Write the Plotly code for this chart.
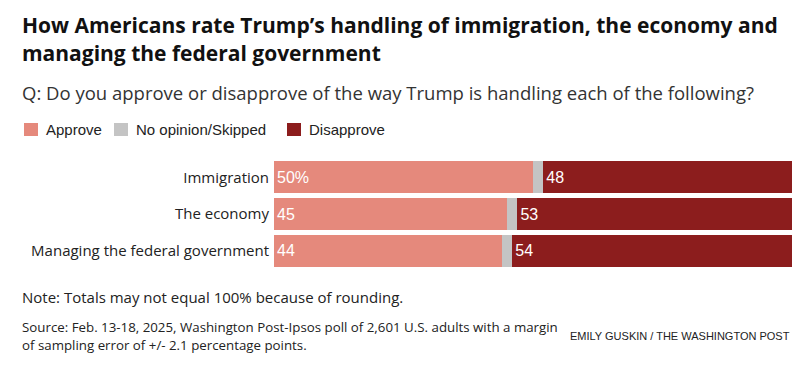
import plotly.graph_objects as go

categories = ["Immigration", "The economy", "Managing the federal government"]
approve = [50, 45, 44]
no_opinion = [2, 2, 2]
disapprove = [48, 53, 54]

C_APPROVE = "#E5897C"
C_NONE = "#C4C4C4"
C_DIS = "#8C1D1D"

FONT = "Liberation Sans, Arial, sans-serif"
FONT2 = "Open Sans, Liberation Sans, sans-serif"

# page has an 8px body margin; figure coordinates are page coordinates minus 8
OFF = 8
W, H = 811 - OFF, 373 - OFF
L, R, T = 274 - OFF, W - (792 - OFF), 159 - OFF
B = H - (269 - OFF)
PW, PH = W - L - R, H - T - B

def px(x):
    return (x - OFF - L) / PW

def py(y):
    return (H - B - (y - OFF)) / PH

approve_text = [f"{v}%" if i == 0 else f"{v}" for i, v in enumerate(approve)]
dis_text = [f"{v}" for v in disapprove]

fig = go.Figure()
fig.add_trace(go.Bar(y=categories, x=approve, orientation="h", name="Approve",
                     marker=dict(color=C_APPROVE, line=dict(width=0)),
                     text=approve_text, textposition="inside", insidetextanchor="start",
                     textfont=dict(color="white", size=16, family=FONT),
                     hoverinfo="skip"))
fig.add_trace(go.Bar(y=categories, x=no_opinion, orientation="h", name="No opinion/Skipped",
                     marker=dict(color=C_NONE, line=dict(width=0)), hoverinfo="skip"))
fig.add_trace(go.Bar(y=categories, x=disapprove, orientation="h", name="Disapprove",
                     marker=dict(color=C_DIS, line=dict(width=0)),
                     text=dis_text, textposition="inside", insidetextanchor="start",
                     textfont=dict(color="white", size=16, family=FONT),
                     hoverinfo="skip"))

fig.update_layout(
    barmode="stack", bargap=0.13,
    width=W, height=H, margin=dict(l=L, r=R, t=T, b=B, pad=0),
    paper_bgcolor="white", plot_bgcolor="white",
    showlegend=False,
    xaxis=dict(range=[0, 100], visible=False, fixedrange=True),
    yaxis=dict(autorange="reversed", showgrid=False, zeroline=False, showline=False,
               ticks="", ticklabelstandoff=4,
               tickfont=dict(size=15, color="#222", family=FONT2)),
    font=dict(family=FONT, color="#222"),
)

anns = []
def text(x, y, s, size, color="#222", xanchor="left", family=FONT2):
    anns.append(dict(x=px(x), y=py(y), xref="paper", yref="paper", text=s, showarrow=False,
                     xanchor=xanchor, yanchor="middle", align="left",
                     font=dict(size=size, color=color, family=family)))

text(20, 25, "<b>How Americans rate Trump’s handling of immigration, the economy and</b>", 21, "#111")
text(20, 53, "<b>managing the federal government</b>", 21, "#111")
text(20, 93, "Q: Do you approve or disapprove of the way Trump is handling each of the following?", 18.5, "#333")

legend_items = [("Approve", C_APPROVE, 24), ("No opinion/Skipped", C_NONE, 114), ("Disapprove", C_DIS, 287)]
shapes = []
for name, col, x0 in legend_items:
    shapes.append(dict(type="rect", xref="paper", yref="paper", x0=px(x0), x1=px(x0 + 14),
                       y0=py(136), y1=py(123), fillcolor=col, line=dict(width=0)))
    text(x0 + 20, 129.5, name, 15, "#222", family=FONT)

text(20, 297, "Note: Totals may not equal 100% because of rounding.", 15, "#222")
text(20, 327, "Source: Feb. 13-18, 2025, Washington Post-Ipsos poll of 2,601 U.S. adults with a margin", 13.3, "#222")
text(20, 345, "of sampling error of +/- 2.1 percentage points.", 13.3, "#222")
text(792, 336, "EMILY GUSKIN / THE WASHINGTON POST", 11, "#222", xanchor="right", family=FONT)

fig.update_layout(annotations=anns, shapes=shapes)
fig.write_html("out.html")
